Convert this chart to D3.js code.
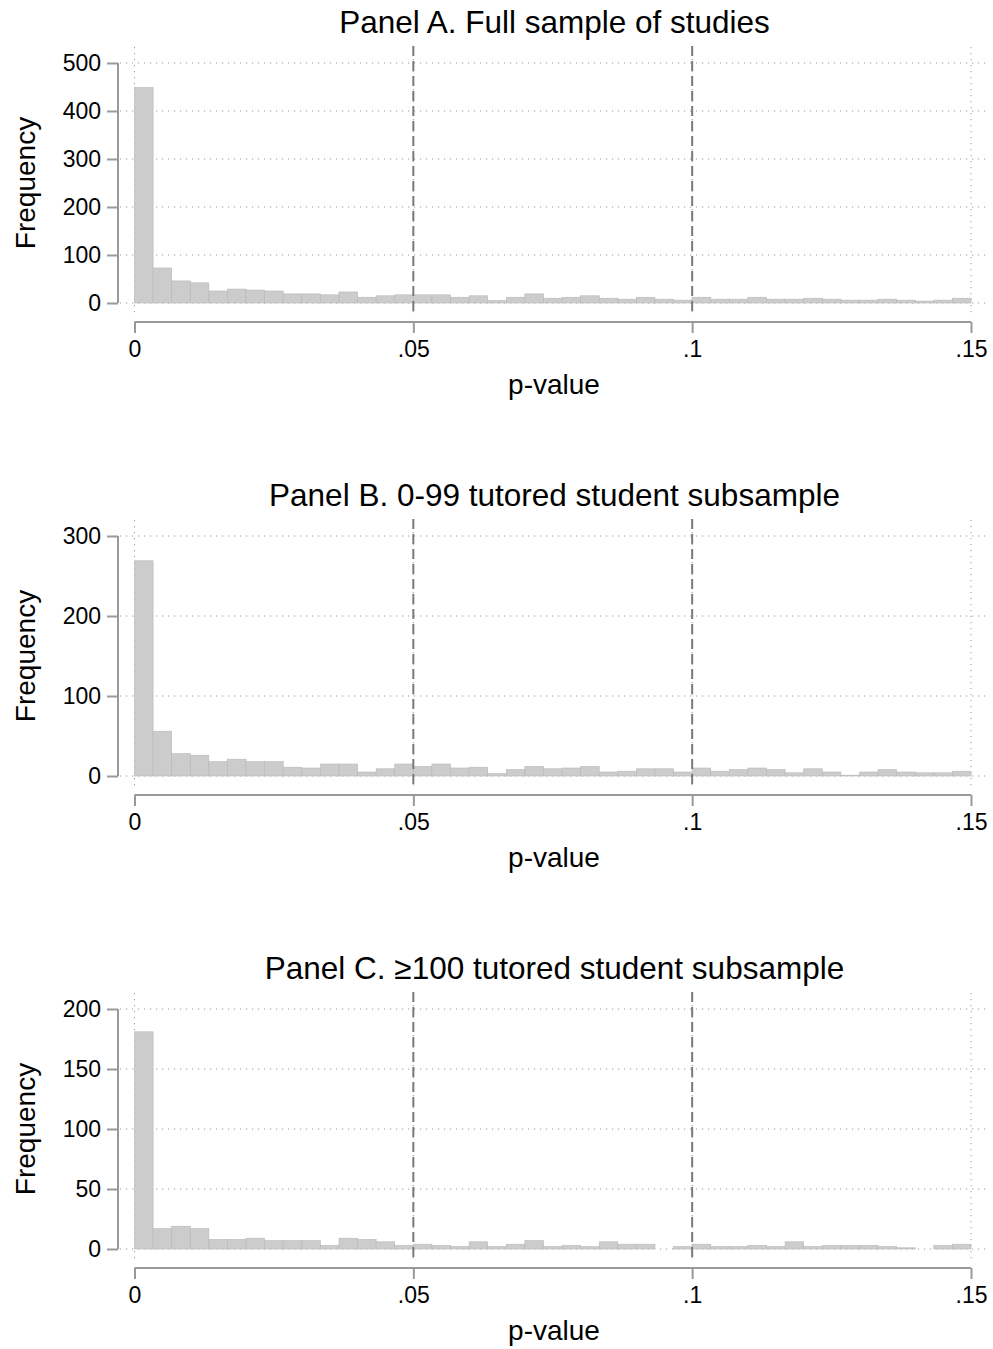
<!DOCTYPE html>
<html>
<head>
<meta charset="utf-8">
<script src="https://cdn.jsdelivr.net/npm/d3@7"></script>
<style>
  body { margin: 0; background: #fff; }
  svg { display: block; font-family: "Liberation Sans", Arial, Helvetica, sans-serif; }
</style>
</head>
<body>
<svg id="chart" width="993" height="1349"></svg>
<script>
// histogram of p-values, 45 bins of width .15/45
const nBins = 45;
const pMax = 0.15;
const xTicks = [0, 0.05, 0.1, 0.15];
const xTickLabels = ["0", ".05", ".1", ".15"];
const refLines = [0.05, 0.1];

const titles = [
  "Panel A. Full sample of studies",
  "Panel B. 0-99 tutored student subsample",
  "Panel C. \u2265100 tutored student subsample"
];

const countsA = [449, 73, 46, 42, 25, 29, 27, 25, 19, 19, 17, 23, 12, 15, 17,
                 17, 17, 12, 15, 5, 12, 19, 10, 12, 15, 10, 8, 12, 8, 6,
                 12, 8, 8, 12, 8, 8, 10, 8, 6, 6, 8, 6, 4, 6, 10];
const countsB = [269, 56, 28, 26, 18, 21, 18, 18, 11, 10, 15, 15, 5, 9, 15,
                 12, 15, 10, 11, 3, 8, 12, 9, 10, 12, 5, 6, 9, 9, 5,
                 10, 6, 8, 10, 8, 4, 9, 5, 1, 5, 8, 5, 4, 4, 6];
const countsC = [181, 17, 19, 17, 8, 8, 9, 7, 7, 7, 3, 9, 8, 6, 3,
                 4, 3, 2, 6, 2, 4, 7, 2, 3, 2, 6, 4, 4, 0, 2,
                 4, 2, 2, 3, 2, 6, 2, 3, 3, 3, 2, 1, 0, 3, 4];

const yTicksA = [0, 100, 200, 300, 400, 500];
const yTicksB = [0, 100, 200, 300];
const yTicksC = [0, 50, 100, 150, 200];

const panels = [
  {title: titles[0], counts: countsA, yTicks: yTicksA},
  {title: titles[1], counts: countsB, yTicks: yTicksB},
  {title: titles[2], counts: countsC, yTicks: yTicksC}
];

const svg = d3.select('#chart');
const panelH = 473;
const binW = pMax / nBins;

const x = d3.scaleLinear().domain([0, pMax]).range([134.5, 971]);

panels.forEach((p, i) => {
  const g = svg.append('g').attr('transform', `translate(0,${i * panelH})`);
  const yMax = d3.max(p.yTicks);
  const y = d3.scaleLinear().domain([0, yMax]).range([303, 63]);

  // title
  g.append('text')
    .attr('x', 554.5).attr('y', 33)
    .attr('text-anchor', 'middle')
    .attr('font-size', 31.5)
    .text(p.title);

  // dotted grid
  g.selectAll('.hgrid').data(p.yTicks).enter().append('line')
    .attr('x1', 120).attr('x2', 990)
    .attr('y1', d => y(d)).attr('y2', d => y(d))
    .attr('stroke', '#9a9a9a').attr('stroke-width', 1)
    .attr('stroke-dasharray', '1.2,4.8');
  g.selectAll('.vgrid').data(xTicks).enter().append('line')
    .attr('x1', d => x(d)).attr('x2', d => x(d))
    .attr('y1', 47).attr('y2', 313)
    .attr('stroke', '#9a9a9a').attr('stroke-width', 1)
    .attr('stroke-dasharray', '1.2,4.8');

  // bars
  g.selectAll('rect').data(p.counts).enter().append('rect')
    .attr('x', (d, j) => x(j * binW))
    .attr('width', x(binW) - x(0))
    .attr('y', d => y(d))
    .attr('height', d => y(0) - y(d))
    .attr('fill', d => d > 0 ? '#cccccc' : 'none')
    .attr('stroke', d => d > 0 ? '#b8b8b8' : 'none')
    .attr('stroke-width', 0.6);

  // reference lines
  g.selectAll('.ref').data(refLines).enter().append('line')
    .attr('x1', d => x(d)).attr('x2', d => x(d))
    .attr('y1', 46).attr('y2', 316)
    .attr('stroke', '#7a7a7a').attr('stroke-width', 2)
    .attr('stroke-dasharray', '10,5');

  // y axis
  const yAxis = d3.axisLeft(y).tickValues(p.yTicks).tickSize(11).tickPadding(6);
  const yAxisG = g.append('g').attr('transform', 'translate(118,0)').call(yAxis);
  yAxisG.select('.domain').attr('d', `M0,${y(yMax)}V${y(0)}`).attr('stroke', '#999').attr('stroke-width', 2);
  yAxisG.selectAll('.tick line').attr('stroke', '#999').attr('stroke-width', 2);
  yAxisG.selectAll('.tick text').attr('font-size', 23).attr('fill', '#000')
    .attr('font-family', '"Liberation Sans", Arial, sans-serif');

  g.append('text')
    .attr('transform', 'translate(35,183) rotate(-90)')
    .attr('text-anchor', 'middle')
    .attr('font-size', 28)
    .text('Frequency');

  // x axis
  const xAxis = d3.axisBottom(x).tickValues(xTicks)
    .tickFormat((d, j) => xTickLabels[j]).tickSize(11).tickPadding(8);
  const xAxisG = g.append('g').attr('transform', 'translate(0,322)').call(xAxis);
  xAxisG.select('.domain').attr('d', `M${x(0)},0H${x(pMax)}`).attr('stroke', '#999').attr('stroke-width', 2);
  xAxisG.selectAll('.tick line').attr('stroke', '#999').attr('stroke-width', 2);
  xAxisG.selectAll('.tick text').attr('font-size', 23).attr('fill', '#000')
    .attr('font-family', '"Liberation Sans", Arial, sans-serif');

  g.append('text')
    .attr('x', 554).attr('y', 394)
    .attr('text-anchor', 'middle')
    .attr('font-size', 28)
    .text('p-value');
});
</script>
</body>
</html>
